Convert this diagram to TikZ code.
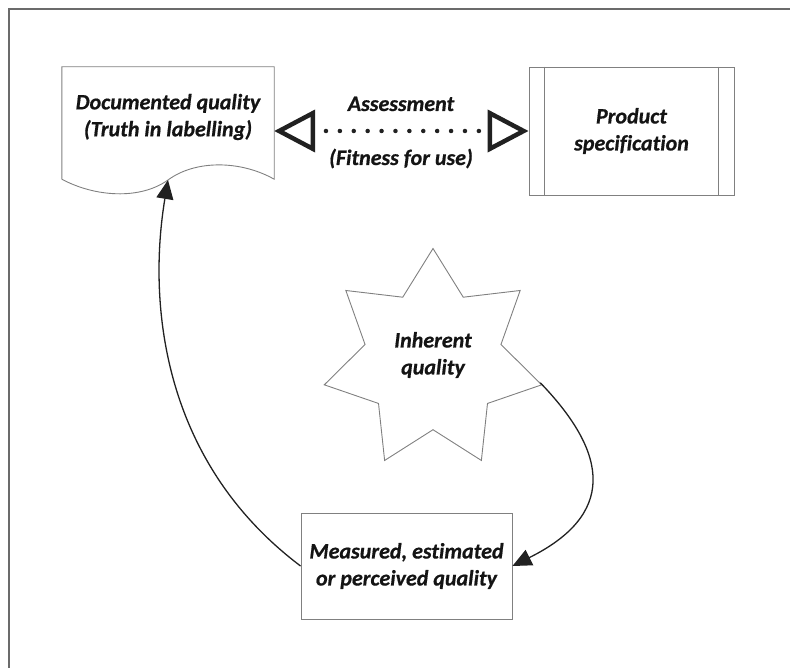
\documentclass[tikz,border=0pt]{standalone}
\usepackage{fontspec}
\setmainfont{Carlito}[Ligatures=NoCommon, BoldItalicFeatures={FakeBold=0.6}]
\usetikzlibrary{arrows.meta,shapes.geometric}
\begin{document}
\begin{tikzpicture}[x=1pt,y=-1pt,
  boxline/.style={draw=black!50, line width=0.9pt},
  lbl/.style={font=\fontsize{22}{27}\selectfont\bfseries\itshape, text=black!92, align=center},
  conn/.style={draw=black!87, line width=1.3pt, -{Triangle[length=19pt,width=17pt]}},
  assess/.style={line width=4.5pt, draw=black!87, line cap=round, dash pattern=on 0pt off 13.9pt, dash phase=2pt,
    {Triangle[open,length=41pt,width=42pt]}-{Triangle[open,length=41pt,width=42pt]}},
]
\useasboundingbox (0,0) rectangle (790,668);
\draw[draw=black!58, line width=1.2pt] (790,9) -- (9,9) -- (9,668);

% documented quality (document shape)
\node[minimum width=212pt, minimum height=112pt, inner sep=0pt] (doc) at (168,123) {};
\coordinate (docwave) at (168,180);
\draw[boxline] (doc.south west) -- (doc.north west) -- (doc.north east) -- (doc.south east)
  .. controls (240,160) and (195,160) .. (docwave)
  .. controls (140,200) and (95,197) .. (doc.south west);
\node[lbl] (doctext) at (168,117) {Documented quality\\(Truth in labelling)};

% product specification
\node[boxline, lbl, minimum width=205pt, minimum height=128pt, inner sep=0pt] (spec) at (631.5,131) {Product\\specification};
\draw[boxline] ([xshift=16pt]spec.north west) -- ([xshift=16pt]spec.south west);
\draw[boxline] ([xshift=-16pt]spec.north east) -- ([xshift=-16pt]spec.south east);

% assessment connector
\draw[assess] (doc.east |- spec.west) -- (spec.west);
\node[lbl, anchor=base] (assessment) at (401,111) {Assessment};
\node[lbl, anchor=base] (fitness) at (401,165) {(Fitness for use)};

% inherent quality star
\node[star, star points=7, star point ratio=1.6, minimum size=223pt, inner sep=0pt, boxline] (star) at (433,360) {};
\node[lbl] (startext) at (433,355) {Inherent\\quality};

% measured quality
\node[boxline, lbl, minimum width=211pt, minimum height=106pt, inner sep=0pt] (meas) at (406.5,566) {Measured, estimated\\or perceived quality};

% connectors
\draw[conn] (star.-12.857) .. controls (610,455) and (615,515) .. (meas.east);
\draw[conn] (meas.west) .. controls (160,460) and (148,300) .. (docwave);
\end{tikzpicture}
\end{document}
